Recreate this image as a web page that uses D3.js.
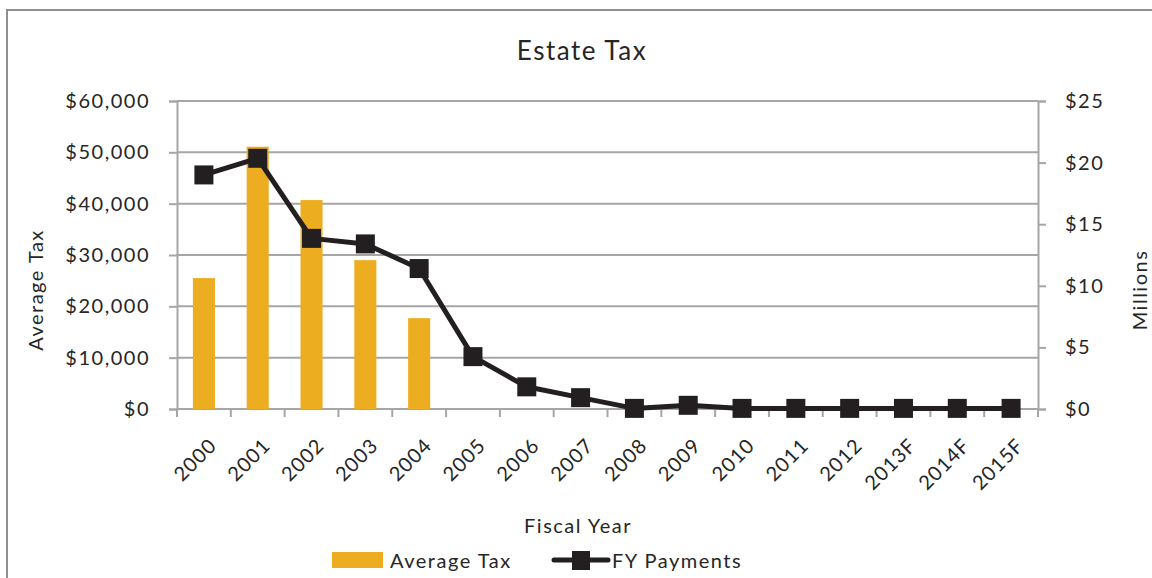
<!DOCTYPE html>
<html><head><meta charset="utf-8">
<script src="https://cdn.jsdelivr.net/npm/d3@7"></script>
<style>body{margin:0;background:#fff;}svg{display:block;font-family:Lato,"Open Sans",sans-serif;}</style>
</head><body>
<svg id="chart" width="1152" height="578"></svg>
<script>
const categories = ["2000","2001","2002","2003","2004","2005","2006","2007","2008","2009","2010","2011","2012","2013F","2014F","2015F"];
const averageTax = [25500, 51100, 40700, 29000, 17700, null, null, null, null, null, null, null, null, null, null, null];
const fyPayments = [19.0, 20.35, 13.85, 13.4, 11.4, 4.25, 1.8, 0.92, 0.05, 0.3, 0.05, 0.05, 0.05, 0.05, 0.05, 0.05];
const leftTicks = [0, 10000, 20000, 30000, 40000, 50000, 60000];
const rightTicks = [0, 5, 10, 15, 20, 25];

const svg = d3.select("#chart");
const W = 1152, H = 578;
const m = {left: 177, right: 1038, top: 101, bottom: 409};
const gridCol = "#a6a6a6", textCol = "#262626";
const barCol = "#EDAD20", lineCol = "#231F20";
const FS = 20, LS = 1.5;

// outer border
svg.append("path").attr("d", `M7,${H+5}V10H${W+5}`).attr("fill","none").attr("stroke","#8f8f8f").attr("stroke-width",2);

const x = d3.scaleBand().domain(categories).range([m.left, m.right]).paddingInner(0.59).paddingOuter(0.295);
const xb = d3.scaleBand().domain(categories).range([m.left, m.right]);
const yL = d3.scaleLinear().domain([0, 60000]).range([m.bottom, m.top]);
const yR = d3.scaleLinear().domain([0, 25]).range([m.bottom, m.top]);

// gridlines
svg.append("g").selectAll("line").data(leftTicks).join("line")
  .attr("x1", m.left).attr("x2", m.right).attr("y1", d=>yL(d)).attr("y2", d=>yL(d))
  .attr("stroke", gridCol).attr("stroke-width", 2);

const fmtL = d => "$" + d3.format(",")(d);
const fmtR = d => "$" + d;

const gl = svg.append("g").attr("transform", `translate(${m.left},0)`)
  .call(d3.axisLeft(yL).tickValues(leftTicks).tickFormat(fmtL).tickSize(8).tickPadding(19));
const gr = svg.append("g").attr("transform", `translate(${m.right},0)`)
  .call(d3.axisRight(yR).tickValues(rightTicks).tickFormat(fmtR).tickSize(8).tickPadding(19));
const gb = svg.append("g").attr("transform", `translate(0,${m.bottom})`)
  .call(d3.axisBottom(xb).tickSize(0));
svg.append("g").selectAll("line").data(d3.range(categories.length + 1)).join("line")
  .attr("x1", i => m.left + i * xb.step()).attr("x2", i => m.left + i * xb.step())
  .attr("y1", m.bottom).attr("y2", m.bottom + 8).attr("stroke", gridCol).attr("stroke-width", 2);

[gl, gr, gb].forEach(g => {
  g.selectAll(".domain").attr("stroke", gridCol).attr("stroke-width", 2);
  g.selectAll(".tick line").attr("stroke", gridCol).attr("stroke-width", 2);
  g.selectAll("text").attr("fill", textCol).attr("font-size", FS).attr("font-family", "Lato").attr("letter-spacing", LS);
});
gb.select(".domain").attr("d", `M${m.left},0H${m.right}`);
gb.selectAll(".tick text").attr("text-anchor", "end").attr("x", 0).attr("y", 0).attr("dy", "0.35em")
  .attr("letter-spacing", 1)
  .attr("transform", "translate(9,33) rotate(-45)");

// bars
svg.append("g").selectAll("rect").data(categories.map((c,i)=>({c, v: averageTax[i]})).filter(d=>d.v!=null))
  .join("rect").attr("x", d=>x(d.c)).attr("width", x.bandwidth())
  .attr("y", d=>yL(d.v)).attr("height", d=>yL(0)-yL(d.v)).attr("fill", barCol);

// line
const pts = categories.map((c,i)=>({c, v: fyPayments[i]}));
const cx = c => xb(c) + xb.bandwidth()/2;
svg.append("path").datum(pts).attr("fill","none").attr("stroke", lineCol).attr("stroke-width", 5)
  .attr("stroke-linejoin","round")
  .attr("d", d3.line().x(d=>cx(d.c)).y(d=>yR(d.v)));
const ms = 19;
svg.append("g").selectAll("rect").data(pts).join("rect")
  .attr("x", d=>cx(d.c)-ms/2).attr("y", d=>yR(d.v)-ms/2).attr("width", ms).attr("height", ms).attr("fill", lineCol);

// titles
const txt = (g) => g.attr("fill", textCol).attr("font-size", FS).attr("letter-spacing", LS);
svg.append("text").attr("x", 582).attr("y", 60).attr("text-anchor","middle").attr("font-size", 26).attr("letter-spacing", 1.5).attr("fill", textCol).text("Estate Tax");
svg.append("text").attr("transform", `translate(43,290) rotate(-90)`).attr("text-anchor","middle").call(txt).text("Average Tax");
svg.append("text").attr("transform", `translate(1147,290) rotate(-90)`).attr("text-anchor","middle").call(txt).text("Millions");
svg.append("text").attr("x", 578).attr("y", 533).attr("text-anchor","middle").call(txt).text("Fiscal Year");

// legend
const lg = svg.append("g");
lg.append("rect").attr("x", 332).attr("y", 552).attr("width", 51).attr("height", 16).attr("fill", barCol);
lg.append("text").attr("x", 390).attr("y", 568).call(txt).text("Average Tax");
lg.append("line").attr("x1", 554).attr("x2", 608).attr("y1", 560).attr("y2", 560).attr("stroke", lineCol).attr("stroke-width", 5).attr("stroke-linecap","round");
lg.append("rect").attr("x", 572).attr("y", 551).attr("width", 18).attr("height", 19).attr("fill", lineCol);
lg.append("text").attr("x", 612).attr("y", 568).call(txt).text("FY Payments");
</script>
</body></html>
